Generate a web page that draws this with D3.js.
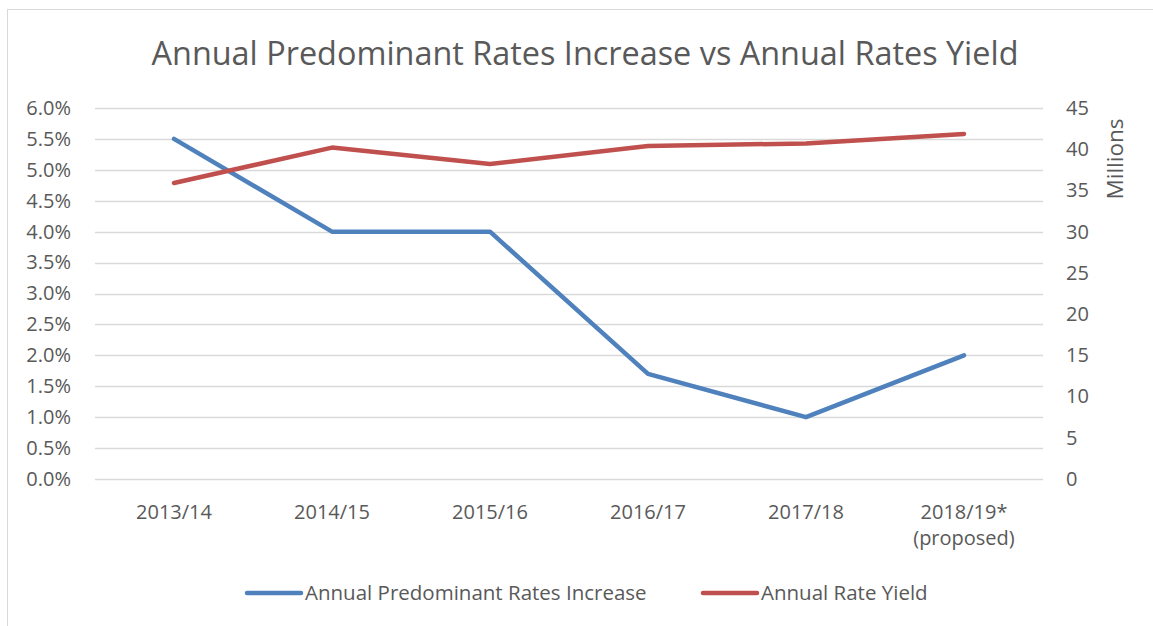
<!DOCTYPE html>
<html>
<head>
<meta charset="utf-8">
<script src="https://cdn.jsdelivr.net/npm/d3@7"></script>
<style>
  body { margin: 0; background: #fff; }
  text { font-family: "Open Sans", sans-serif; fill: #595959; }
</style>
</head>
<body>
<div class="graph"></div>
<script>
const w = 1153;
const h = 626;
const margin = {top: 108, right: 110, bottom: 147, left: 95};

const years = ["2013/14", "2014/15", "2015/16", "2016/17", "2017/18", "2018/19*|(proposed)"];
const rateIncrease = [5.5, 4.0, 4.0, 1.7, 1.0, 2.0];     // percent
const rateYield = [35.9, 40.2, 38.2, 40.4, 40.7, 41.85];  // millions
const leftTicks = [0, 0.5, 1, 1.5, 2, 2.5, 3, 3.5, 4, 4.5, 5, 5.5, 6];
const rightTicks = [0, 5, 10, 15, 20, 25, 30, 35, 40, 45];
const seriesNames = ["Annual Predominant Rates Increase", "Annual Rate Yield"];
const colors = ["#4f81bd", "#c0504d"];

const canvas = d3.select(".graph")
                 .append("svg")
                 .attr("width", w)
                 .attr("height", h);

// outer chart border (cropped on right and bottom)
canvas.append("rect")
      .attr("x", 7.5)
      .attr("y", 9.5)
      .attr("width", w + 10)
      .attr("height", h + 10)
      .attr("fill", "none")
      .attr("stroke", "#d9d9d9");

canvas.append("text")
      .attr("x", 585)
      .attr("y", 65)
      .attr("text-anchor", "middle")
      .style("font-size", "32.4px")
      .text("Annual Predominant Rates Increase vs Annual Rates Yield");

const x = d3.scalePoint()
            .domain(years)
            .range([margin.left, w - margin.right])
            .padding(0.5);

const yLeft = d3.scaleLinear()
                .domain([0, 6])
                .range([h - margin.bottom, margin.top]);

const yRight = d3.scaleLinear()
                 .domain([0, 45])
                 .range([h - margin.bottom, margin.top]);

// gridlines
canvas.append("g")
      .selectAll("line")
      .data(leftTicks)
      .enter().append("line")
      .attr("x1", margin.left)
      .attr("x2", w - margin.right)
      .attr("y1", d => Math.round(yLeft(d)) + 0.5)
      .attr("y2", d => Math.round(yLeft(d)) + 0.5)
      .attr("stroke", "#d9d9d9")
      .attr("stroke-width", 1.5);

// left axis
const leftAxis = d3.axisLeft(yLeft)
                   .tickValues(leftTicks)
                   .tickSize(0)
                   .tickPadding(24)
                   .tickFormat(d => d.toFixed(1) + "%");

canvas.append("g")
      .attr("transform", `translate(${margin.left}, 0)`)
      .call(leftAxis)
      .call(g => g.select(".domain").remove())
      .selectAll("text")
      .style("font-size", "20px")
      .attr("fill", "#595959");

// right axis
const rightAxis = d3.axisRight(yRight)
                    .tickValues(rightTicks)
                    .tickSize(0)
                    .tickPadding(23);

canvas.append("g")
      .attr("transform", `translate(${w - margin.right}, 0)`)
      .call(rightAxis)
      .call(g => g.select(".domain").remove())
      .selectAll("text")
      .style("font-size", "20px")
      .attr("fill", "#595959");

canvas.append("text")
      .attr("transform", `translate(1123, 159) rotate(-90)`)
      .attr("text-anchor", "middle")
      .style("font-size", "22.5px")
      .text("Millions");

// x labels
const xLabels = canvas.append("g")
      .selectAll("text")
      .data(years)
      .enter().append("text")
      .attr("x", d => x(d))
      .attr("y", 519)
      .attr("text-anchor", "middle")
      .style("font-size", "20px");

xLabels.each(function(d) {
  const parts = d.split("|");
  d3.select(this).selectAll("tspan")
    .data(parts)
    .enter().append("tspan")
    .attr("x", x(d))
    .attr("dy", (p, i) => i === 0 ? 0 : 26)
    .text(p => p);
});

// lines
const lineLeft = d3.line()
                   .x((d, i) => x(years[i]))
                   .y(d => yLeft(d));

const lineRight = d3.line()
                    .x((d, i) => x(years[i]))
                    .y(d => yRight(d));

canvas.append("path")
      .datum(rateIncrease)
      .attr("d", lineLeft)
      .attr("fill", "none")
      .attr("stroke", colors[0])
      .attr("stroke-width", 4.5)
      .attr("stroke-linecap", "round")
      .attr("stroke-linejoin", "round");

canvas.append("path")
      .datum(rateYield)
      .attr("d", lineRight)
      .attr("fill", "none")
      .attr("stroke", colors[1])
      .attr("stroke-width", 4.5)
      .attr("stroke-linecap", "round")
      .attr("stroke-linejoin", "round");

// legend
const legendX = [247, 703];
const legend = canvas.append("g")
      .selectAll("g")
      .data(seriesNames)
      .enter().append("g")
      .attr("transform", (d, i) => `translate(${legendX[i]}, 593)`);

legend.append("line")
      .attr("x1", 0)
      .attr("x2", 54)
      .attr("stroke", (d, i) => colors[i])
      .attr("stroke-width", 4.5)
      .attr("stroke-linecap", "round");

legend.append("text")
      .attr("x", 58)
      .attr("y", 7)
      .style("font-size", "20.5px")
      .text(d => d);
</script>
</body>
</html>
